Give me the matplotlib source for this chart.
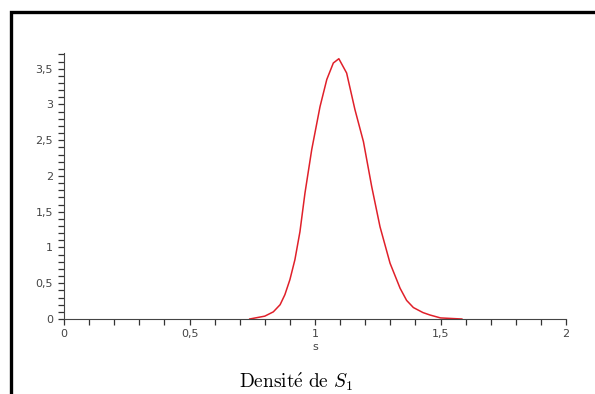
import numpy as np
import matplotlib
matplotlib.use("Agg")
import matplotlib.pyplot as plt
from matplotlib.patches import Rectangle
from matplotlib.ticker import MultipleLocator, FuncFormatter

plt.rcParams['mathtext.fontset'] = 'cm'

# density of S1
s = [0.74, 0.80, 0.834, 0.861, 0.88, 0.90, 0.92, 0.94, 0.96, 0.987, 1.02,
     1.047, 1.073, 1.095, 1.126, 1.159, 1.193, 1.226, 1.259, 1.299, 1.339,
     1.365, 1.392, 1.43, 1.458, 1.50, 1.585]
dens = [0.0, 0.04, 0.10, 0.20, 0.34, 0.55, 0.83, 1.22, 1.76, 2.37, 2.97,
        3.35, 3.58, 3.64, 3.44, 2.93, 2.48, 1.85, 1.29, 0.78, 0.43,
        0.26, 0.16, 0.09, 0.056, 0.015, 0.0]

xticks = [0, 0.5, 1, 1.5, 2]
yticks = [0, 0.5, 1, 1.5, 2, 2.5, 3, 3.5]

fig = plt.figure(figsize=(5.95, 3.94), dpi=100)
ax = fig.add_axes([64 / 595, 1 - 319 / 394, 502 / 595, 266 / 394])

ax.plot(s, dens, color='#e0202a', lw=1.1)

ax.set_xlim(0, 2)
ax.set_ylim(0, 3.72)
for side in ['top', 'right']:
    ax.spines[side].set_visible(False)
for side in ['bottom', 'left']:
    ax.spines[side].set_color('#444444')
    ax.spines[side].set_linewidth(0.8)

def comma(v, pos):
    txt = ('%g' % v).replace('.', ',')
    return txt

ax.set_xticks(xticks)
ax.set_yticks(yticks)
ax.xaxis.set_minor_locator(MultipleLocator(0.1))
ax.yaxis.set_minor_locator(MultipleLocator(0.1))
ax.xaxis.set_major_formatter(FuncFormatter(comma))
ax.yaxis.set_major_formatter(FuncFormatter(comma))
ax.tick_params(which='both', direction='out', length=4, width=0.9,
               color='#333333', labelsize=8, labelcolor='#444444')
ax.tick_params(axis='x', pad=3)
ax.tick_params(axis='y', pad=4)

fig.text(315 / 595, 1 - 347 / 394, 's', ha='center', va='center',
         fontsize=8, color='#444444')
fig.text(296 / 595, 1 - 382 / 394, r'$\mathrm{Densit\acute{e}\ de\ }S_1$',
         ha='center', va='center', fontsize=14)

# black frame around the picture (cut off at right and bottom)
fig.add_artist(Rectangle((10.5 / 595, -0.1), 1.2, 1 - 12 / 394 + 0.1,
                         transform=fig.transFigure, fill=False,
                         ec='black', lw=2.4, clip_on=False))

fig.savefig('out.png', dpi=100)
